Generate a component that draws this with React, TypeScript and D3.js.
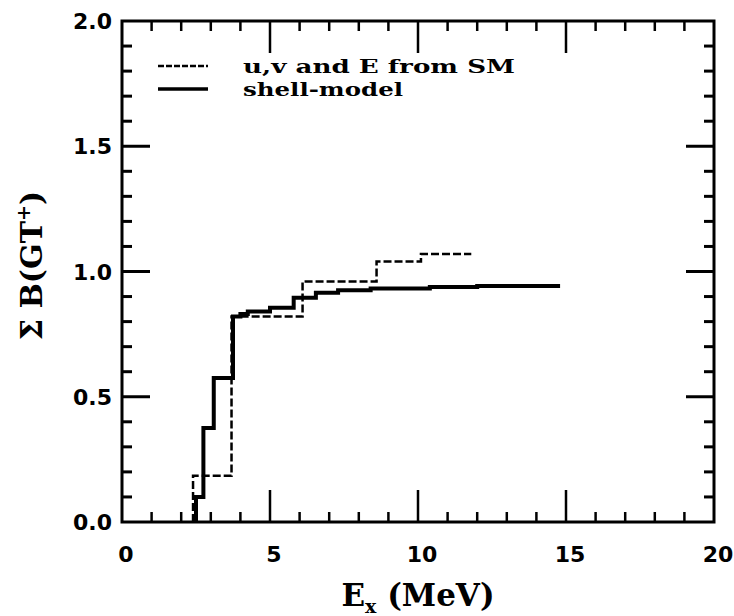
import React, { useEffect, useRef } from 'react';
import * as d3 from 'd3';

// cumulative B(GT+) step curves: [E_x (MeV), running sum]
const uvFromSM: [number, number][] = [
  [2.4, 0],
  [2.4, 0.185],
  [3.7, 0.82],
  [6.1, 0.96],
  [8.6, 1.04],
  [10.1, 1.07],
  [11.8, 1.07],
];

const shellModel: [number, number][] = [
  [2.5, 0],
  [2.5, 0.1],
  [2.75, 0.375],
  [3.1, 0.575],
  [3.75, 0.82],
  [4.0, 0.83],
  [4.25, 0.84],
  [5.0, 0.855],
  [5.8, 0.895],
  [6.55, 0.915],
  [7.3, 0.925],
  [8.4, 0.932],
  [10.4, 0.938],
  [12.0, 0.942],
  [14.8, 0.942],
];

const xMajor = [0, 5, 10, 15, 20];
const yMajor = [0, 0.5, 1, 1.5, 2];
const legendLabels = ['u,v and E from SM', 'shell-model'];

const App = () => {
  const svgRef = useRef(null);

  useEffect(() => {
    if (!svgRef.current) return;
    const W = 734;
    const H = 616;
    const m = { left: 122, right: 20, top: 21, bottom: 94 };

    const svg = d3.select(svgRef.current).attr('width', W).attr('height', H);
    svg.selectAll('*').remove();

    const x = d3.scaleLinear().domain([0, 20]).range([m.left, W - m.right]);
    const y = d3.scaleLinear().domain([0, 2]).range([H - m.bottom, m.top]);

    const xMinor = d3.range(0, 21, 1).filter((d) => d % 5 !== 0);
    const yMinor = d3.range(0, 21, 1).map((d) => d / 10).filter((d, i) => i % 5 !== 0);

    const g = svg.append('g');

    // frame
    g.append('rect')
      .attr('x', x(0))
      .attr('y', y(2))
      .attr('width', x(20) - x(0))
      .attr('height', y(0) - y(2))
      .attr('fill', 'none')
      .attr('stroke', '#000')
      .attr('stroke-width', 3);

    const tick = (x1, y1, x2, y2, w) =>
      g.append('line')
        .attr('x1', x1).attr('y1', y1).attr('x2', x2).attr('y2', y2)
        .attr('stroke', '#000').attr('stroke-width', w);

    // x ticks, bottom and top, pointing inward
    xMajor.slice(1, -1).forEach((d) => {
      tick(x(d), y(0), x(d), y(0) - 32, 2.5);
      tick(x(d), y(2), x(d), y(2) + 32, 2.5);
    });
    xMinor.forEach((d) => {
      tick(x(d), y(0), x(d), y(0) - 10, 2.5);
      tick(x(d), y(2), x(d), y(2) + 10, 2.5);
    });
    // y ticks, left and right
    yMajor.slice(1, -1).forEach((d) => {
      tick(x(0), y(d), x(0) + 28, y(d), 3);
      tick(x(20), y(d), x(20) - 28, y(d), 3);
    });
    yMinor.forEach((d) => {
      tick(x(0), y(d), x(0) + 10, y(d), 3);
      tick(x(20), y(d), x(20) - 10, y(d), 3);
    });

    // tick labels
    g.selectAll('text.xl')
      .data(xMajor)
      .enter()
      .append('text')
      .attr('class', 'xl')
      .attr('x', (d) => x(d) + 4)
      .attr('y', y(0) + 40)
      .attr('text-anchor', 'middle')
      .attr('font-family', 'DejaVu Sans')
      .attr('font-weight', 'bold')
      .attr('font-size', 22)
      .text((d) => d);

    g.selectAll('text.yl')
      .data(yMajor)
      .enter()
      .append('text')
      .attr('class', 'yl')
      .attr('x', x(0) - 10)
      .attr('y', (d) => y(d) + 8)
      .attr('text-anchor', 'end')
      .attr('font-family', 'DejaVu Sans')
      .attr('font-weight', 'bold')
      .attr('font-size', 22)
      .text((d) => d3.format('.1f')(d));

    // axis titles
    const xt = g.append('text')
      .attr('x', (x(0) + x(20)) / 2)
      .attr('y', H - 10)
      .attr('text-anchor', 'middle')
      .attr('font-family', 'DejaVu Serif')
      .attr('font-weight', 'bold')
      .attr('font-size', 31);
    xt.append('tspan').text('E');
    xt.append('tspan').attr('font-size', 19).attr('dy', 7).text('x');
    xt.append('tspan').attr('dy', -7).text(' (MeV)');

    const yt = g.append('text')
      .attr('transform', `translate(42,${(y(0) + y(2)) / 2 - 6}) rotate(-90)`)
      .attr('text-anchor', 'middle')
      .attr('font-family', 'DejaVu Serif')
      .attr('font-weight', 'bold')
      .attr('font-size', 30);
    yt.append('tspan').text('Σ B(GT');
    yt.append('tspan').attr('font-size', 19).attr('dy', -12).text('+');
    yt.append('tspan').attr('dy', 12).text(')');

    // step curves
    const line = d3.line().x((d) => x(d[0])).y((d) => y(d[1])).curve(d3.curveStepAfter);

    g.append('path')
      .datum(uvFromSM)
      .attr('d', line)
      .attr('fill', 'none')
      .attr('stroke', '#000')
      .attr('stroke-width', 2.5)
      .attr('stroke-dasharray', '8,3');

    g.append('path')
      .datum(shellModel)
      .attr('d', line)
      .attr('fill', 'none')
      .attr('stroke', '#000')
      .attr('stroke-width', 4);

    // legend
    const styles = [
      { dash: '6,2', w: 2.5, len: 272 },
      { dash: null, w: 3.5, len: 160 },
    ];
    legendLabels.forEach((label, i) => {
      const ly = 66 + i * 23;
      g.append('line')
        .attr('x1', 158).attr('x2', 208).attr('y1', ly).attr('y2', ly)
        .attr('stroke', '#000')
        .attr('stroke-width', styles[i].w)
        .attr('stroke-dasharray', styles[i].dash);
      g.append('text')
        .attr('x', 243)
        .attr('y', ly + 7)
        .attr('font-family', 'DejaVu Serif')
        .attr('font-weight', 'bold')
        .attr('font-size', 19)
        .attr('textLength', styles[i].len)
        .attr('lengthAdjust', 'spacingAndGlyphs')
        .text(label);
    });

    return () => {
      svg.selectAll('*').remove();
    };
  }, []);

  return <svg ref={svgRef} style={{ position: 'absolute', left: 0, top: 0 }} />;
};

export default App;
